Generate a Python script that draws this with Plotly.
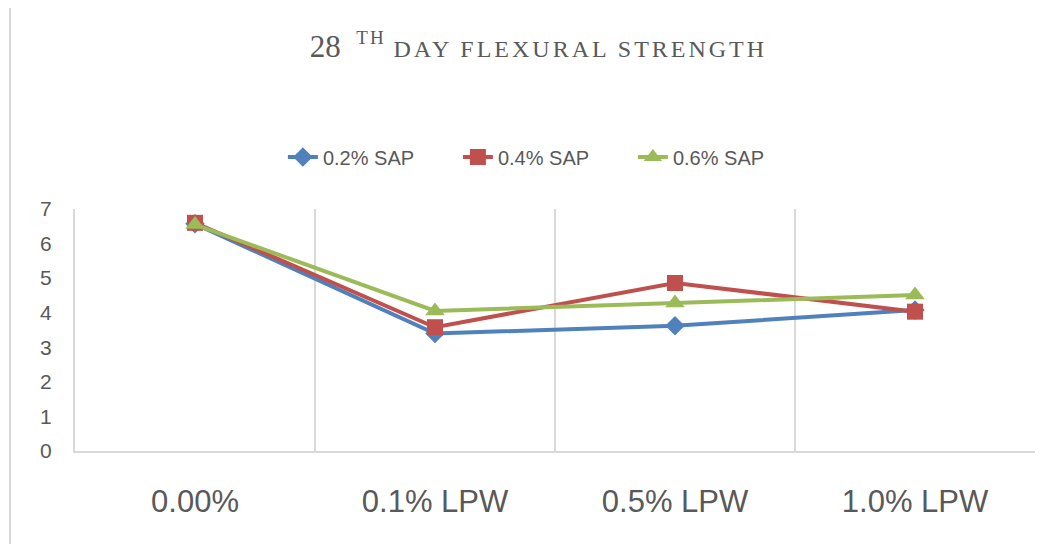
import plotly.graph_objects as go

categories = ["0.00%", "0.1% LPW", "0.5% LPW", "1.0% LPW"]
series_names = ["0.2% SAP", "0.4% SAP", "0.6% SAP"]
sap_02 = [6.57, 3.40, 3.62, 4.08]
sap_04 = [6.60, 3.58, 4.86, 4.03]
sap_06 = [6.55, 4.05, 4.28, 4.51]
y_ticks = [0, 1, 2, 3, 4, 5, 6, 7]

colors = ["#4F81BD", "#C0504D", "#9BBB59"]
symbols = ["diamond", "square", "triangle-up"]
sizes = [15, 16, 17]

fig = go.Figure()
xs = list(range(len(categories)))
for name, vals, c, s, sz in zip(series_names, [sap_02, sap_04, sap_06], colors, symbols, sizes):
    fig.add_trace(go.Scatter(
        x=xs, y=vals, name=name, mode="lines+markers",
        line=dict(color=c, width=4),
        marker=dict(symbol=s, size=sz, color=c),
    ))

font_ax = "Liberation Sans, Arial, sans-serif"
fig.update_layout(
    width=1061, height=544,
    margin=dict(l=67, r=34, t=201, b=101),
    paper_bgcolor="white", plot_bgcolor="white",
    title=dict(
        text=("28  <sup><span style='font-size:19px;letter-spacing:2px'>TH</span></sup> "
              "<span style='font-size:24px;letter-spacing:3px'>DAY FLEXURAL STRENGTH</span>"),
        x=0.5, xanchor="center", y=1 - 38 / 544, yanchor="middle",
        font=dict(family="Liberation Serif, Times New Roman, serif", size=31, color="#595959"),
    ),
    legend=dict(
        orientation="h", x=0.49, xanchor="center", y=(443 - 149) / 242, yanchor="middle",
        font=dict(family=font_ax, size=20, color="#595959"),
        entrywidth=130, entrywidthmode="pixels",
    ),
    showlegend=True,
)
fig.update_xaxes(
    range=[-0.5, len(categories) - 0.5],
    tickvals=xs, ticktext=categories,
    showgrid=False, zeroline=False,
    showline=True, linecolor="#D9D9D9", linewidth=2,
    ticks="", ticklabelstandoff=22,
    tickfont=dict(family=font_ax, size=31, color="#595959"),
    minor=dict(tickvals=[i + 0.5 for i in xs[:-1]], showgrid=True, gridcolor="#D9D9D9", gridwidth=1.5, ticks=""),
)
fig.update_yaxes(
    range=[0, 7], tickvals=y_ticks,
    showgrid=False, zeroline=False,
    showline=True, linecolor="#D9D9D9", linewidth=2,
    ticks="", ticklabelstandoff=17,
    tickfont=dict(family=font_ax, size=21, color="#595959"),
)
# chart frame line at left
fig.add_shape(type="line", xref="paper", yref="paper",
              x0=(2 - 67) / 960, x1=(2 - 67) / 960, y0=-101 / 242, y1=201 / 242 + 1,
              line=dict(color="#D9D9D9", width=2))

fig.write_html("out.html")
